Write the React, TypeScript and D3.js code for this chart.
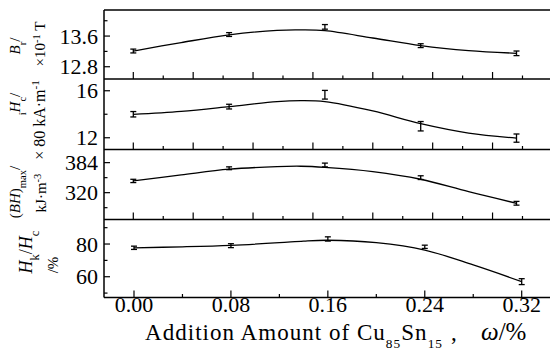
import React from 'react'
import * as d3 from 'd3'

// measured values, x in ω/%
const xValues = [0.0, 0.08, 0.16, 0.24, 0.32]

const brValues = [13.21, 13.64, 13.84, 13.35, 13.15]
const brErr = [0.05, 0.05, 0.06, 0.05, 0.06]
const hcValues = [14.0, 14.65, 15.66, 12.98, 11.97]
const hcErr = [0.23, 0.2, 0.37, 0.4, 0.35]
const bhValues = [345, 372, 379, 352, 297.4]
const bhErr = [3.5, 3, 4, 4, 4]
const hkValues = [77.7, 79.0, 83.1, 78.3, 57.0]
const hkErr = [1.0, 1.2, 1.3, 1.0, 1.8]

// fitted curves
const fitX = [0, 0.04, 0.08, 0.12, 0.14, 0.16, 0.2, 0.24, 0.28, 0.32]
const brFit = [13.21, 13.43, 13.63, 13.75, 13.76, 13.74, 13.55, 13.35, 13.22, 13.15]
const hcFit = [13.99, 14.25, 14.65, 15.08, 15.16, 15.08, 14.28, 13.2, 12.4, 11.97]
const bhFit = [345, 357.8, 370, 375.5, 376.3, 374, 365, 348.6, 322, 297.4]
const hkFit = [77.7, 78.3, 79.2, 80.8, 81.8, 82.3, 80.8, 76.3, 67.2, 57]

const brTicks = ['12.8', '13.6']
const hcTicks = ['12', '16']
const bhTicks = ['320', '384']
const hkTicks = ['60', '80']
const xTickLabels = ['0.00', '0.08', '0.16', '0.24', '0.32']

const W = 550
const H = 354
const left = 104
const font = 'Liberation Serif, Times New Roman, serif'

const xTop = d3.scaleLinear().domain([0, 0.32]).range([133.3, 516.5])
const xBot = d3.scaleLinear().domain([0, 0.32]).range([134, 521.7])

const panels = [
	{ top: 10, bottom: 79, domain: [12.48, 14.28], step: 0.4, labels: brTicks, values: brValues, err: brErr, fit: brFit, x: xTop, bottomAxis: false },
	{ top: 79, bottom: 149.5, domain: [11, 17], step: 2, labels: hcTicks, values: hcValues, err: hcErr, fit: hcFit, x: xTop, bottomAxis: false },
	{ top: 149.5, bottom: 219.5, domain: [262.8, 412], step: 32, labels: bhTicks, values: bhValues, err: bhErr, fit: bhFit, x: xTop, bottomAxis: false },
	{ top: 219.5, bottom: 297.5, domain: [47.3, 95], step: 10, labels: hkTicks, values: hkValues, err: hkErr, fit: hkFit, x: xBot, bottomAxis: true },
]

const Panel = ({ p }) => {
	const y = d3.scaleLinear().domain(p.domain).range([p.bottom, p.top])
	const lo = +p.labels[0]
	const hi = +p.labels[1]
	const yTicks = d3.range(Math.ceil((p.domain[0] - lo) / p.step - 1e-6), Math.floor((p.domain[1] - lo) / p.step + 1e-6) + 1)
		.map(i => ({ v: lo + i * p.step, major: i % 2 === 0 }))
	const xTicks = p.bottomAxis
		? d3.range(0, 9).map(i => ({ v: i * 0.04, major: i % 2 === 0 }))
		: d3.range(0, 14).map(i => ({ v: i * 0.025, major: i % 2 === 0 }))
	const line = d3.line<number>()
		.x((d, i) => p.x(fitX[i]))
		.y(d => y(d))
		.curve(d3.curveCatmullRom.alpha(0.5))
	return (
		<g>
			<line x1={left} x2={W} y1={p.bottom} y2={p.bottom} stroke='#000' strokeWidth={1.5} />
			{yTicks.map((t, i) => (
				<line key={'y' + i} x1={left} x2={left + (t.major ? 6 : 3.5)} y1={y(t.v)} y2={y(t.v)} stroke='#000' strokeWidth={1.2} />
			))}
			{[lo, hi].map((v, i) => (
				<text key={'yl' + i} x={98} y={y(v)} dy='0.35em' textAnchor='end' fontSize={22}>{p.labels[i]}</text>
			))}
			{xTicks.map((t, i) => (
				<line key={'x' + i} x1={p.x(t.v)} x2={p.x(t.v)} y1={p.bottom} y2={p.bottom - (t.major ? 7 : 3.5)} stroke='#000' strokeWidth={1.2} />
			))}
			<path d={line(p.fit)} fill='none' stroke='#000' strokeWidth={1.3} />
			{p.values.map((v, i) => {
				const cx = p.x(xValues[i])
				const y1 = y(v + p.err[i])
				const y2 = y(v - p.err[i])
				return (
					<g key={'e' + i} stroke='#000' strokeWidth={1.3}>
						<line x1={cx} x2={cx} y1={y1} y2={y2} />
						<line x1={cx - 3} x2={cx + 3} y1={y1} y2={y1} />
						<line x1={cx - 3} x2={cx + 3} y1={y2} y2={y2} />
					</g>
				)
			})}
		</g>
	)
}

const YLabel = ({ x, y, size = 15, children }) => (
	<text transform={`translate(${x},${y}) rotate(-90)`} textAnchor='middle' fontSize={size}>{children}</text>
)

const sub = { baselineShift: 'sub', fontSize: '70%' }
const sub2 = { baselineShift: 'sub', fontSize: '58%' }
const sup = { baselineShift: 'super', fontSize: '70%' }

const App = () => {
	return (
		<svg width={W} height={H} fontFamily={font} style={{ position: 'absolute', left: 0, top: 0, background: '#fff' }}>
			<line x1={left} x2={W} y1={10} y2={10} stroke='#000' strokeWidth={1.5} />
			<line x1={left} x2={left} y1={10} y2={297.5} stroke='#000' strokeWidth={1.5} />
			{panels.map((p, i) => <Panel key={i} p={p} />)}
			{xTickLabels.map((t, i) => (
				<text key={t} x={xBot(xValues[i])} y={311.5} textAnchor='middle' fontSize={22}>{t}</text>
			))}
			<g fontSize={23}>
				<text x={145} y={340} textLength={297} lengthAdjust='spacing'>
					Addition Amount of Cu<tspan style={sub2}>85</tspan>Sn<tspan style={sub2}>15</tspan>
				</text>
				<text x={451} y={340}>,</text>
				<text x={481} y={340} fontSize={25}>
					<tspan fontStyle='italic'>ω</tspan>/%
				</text>
			</g>

			<YLabel x={20} y={46}>
				<tspan fontStyle='italic'>B</tspan><tspan style={sub}>r</tspan>/
			</YLabel>
			<YLabel x={45} y={44}>
				×10<tspan style={sup}>-1</tspan> T
			</YLabel>
			<YLabel x={20} y={104}>
				<tspan style={sub}>i</tspan><tspan fontStyle='italic'>H</tspan><tspan style={sub}>c</tspan>/
			</YLabel>
			<YLabel x={45} y={120} size={16}>
				× 80 kA·m<tspan style={sup}>-1</tspan>
			</YLabel>
			<YLabel x={20} y={192}>
				(<tspan fontStyle='italic'>BH</tspan>)<tspan style={sub}>max</tspan>/
			</YLabel>
			<YLabel x={46} y={193}>
				kJ·m<tspan style={sup}>-3</tspan>
			</YLabel>
			<YLabel x={32} y={252} size={18}>
				<tspan fontStyle='italic'>H</tspan><tspan style={sub}>k</tspan>/<tspan fontStyle='italic'>H</tspan><tspan style={sub}>c</tspan>
			</YLabel>
			<YLabel x={58} y={265}>
				/%
			</YLabel>
		</svg>
	)
}

export default App
